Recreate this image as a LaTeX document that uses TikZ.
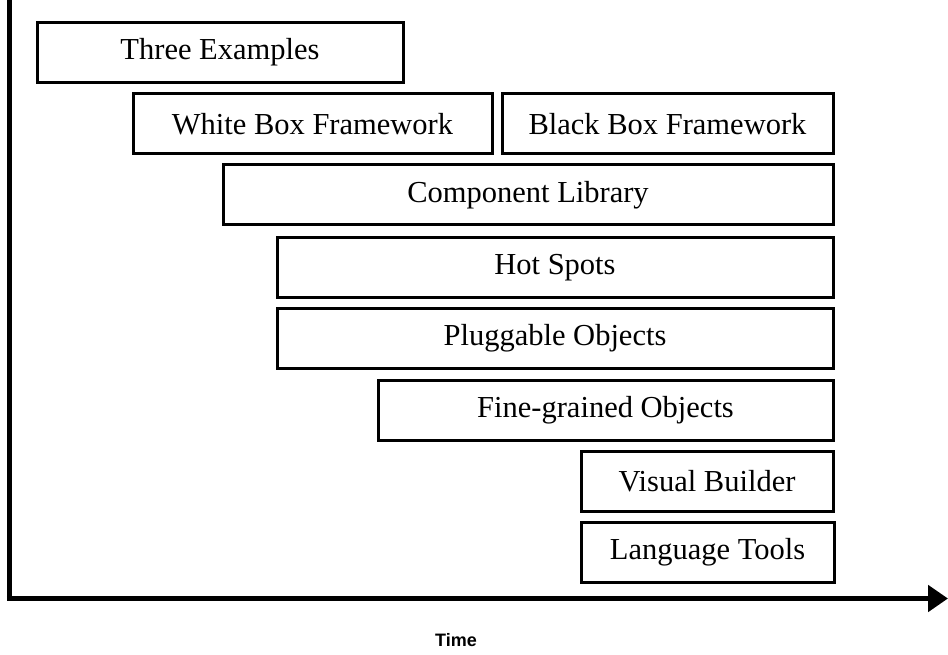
\documentclass[tikz,border=0pt]{standalone}
\usepackage{fontspec}
\setmainfont{Liberation Serif}
\newfontfamily\timefont{Liberation Sans}
\usepackage{tikz}
\usetikzlibrary{arrows.meta}

\begin{document}
\begin{tikzpicture}[x=1pt, y=-1pt]
        \tikzstyle{stage} = [rectangle, draw=black, line width=3pt, minimum height=60pt, inner sep=0pt, text centered, font=\fontsize{30.5}{34}\selectfont]
        \tikzstyle{axis} = [line width=5.5pt, -{Triangle[length=20pt,width=26pt]}]
        \useasboundingbox (0,0) rectangle (948,655);
        \node [stage, minimum width=366pt] (ex) at (220, 52.5) {Three Examples};
        \node [stage, minimum width=359pt] (wbf) at (312.5, 124) {White Box Framework};
        \node [stage, minimum width=331pt] (bbf) at (667.5, 124) {Black Box Framework};
        \node [stage, minimum width=610pt] (lib) at (528, 195) {Component Library};
        \node [stage, minimum width=556pt] (hot) at (555, 267.5) {Hot Spots};
        \node [stage, minimum width=556pt] (plug) at (555, 338) {Pluggable Objects};
        \node [stage, minimum width=455pt] (fine) at (605.5, 410) {Fine-grained Objects};
        \node [stage, minimum width=252pt] (vis) at (707, 481.5) {Visual Builder};
        \node [stage, minimum width=253pt] (lang) at (707.5, 552.5) {Language Tools};
        \coordinate (top) at (9.5, 0);
        \coordinate (origin) at (9.5, 598.5);
        \coordinate (end) at (948, 598.5);
        \node [font=\timefont\bfseries\fontsize{18}{20}\selectfont] (time) at (456, 640) {Time};
        \draw [line width=5.5pt] (top) -- (origin);
        \draw [axis] ([xshift=-2.75pt]origin) -- (end);
\end{tikzpicture}
\end{document}
